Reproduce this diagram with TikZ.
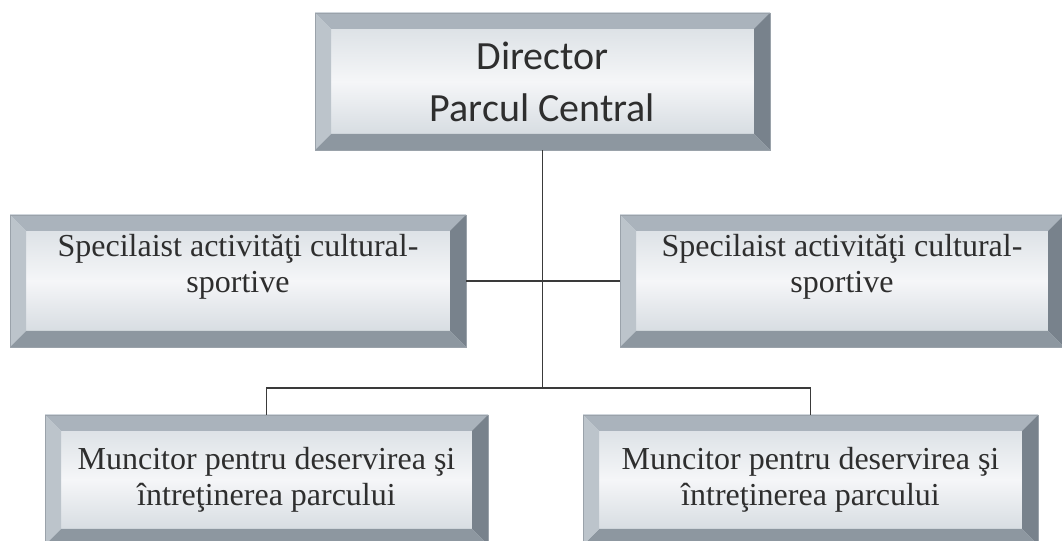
\documentclass[tikz,border=0pt]{standalone}
\usepackage{fontspec}
\setmainfont{Liberation Serif}
\newfontfamily\dirfont{Carlito}
\usetikzlibrary{positioning}
\usetikzlibrary{calc}

\definecolor{facetop}{HTML}{D6DCE1}
\definecolor{facemid}{HTML}{F5F6F8}
\definecolor{facebot}{HTML}{CED5DB}
\definecolor{bevtop}{HTML}{AAB3BC}
\definecolor{bevleft}{HTML}{BCC4CB}
\definecolor{bevright}{HTML}{78828C}
\definecolor{bevbot}{HTML}{8D97A0}
\definecolor{bevedge}{HTML}{9AA2AA}
\definecolor{inktext}{HTML}{2E2E2E}
\definecolor{inkline}{HTML}{3A3A3A}
\newcommand\bevw{8pt}

\tikzset{
  bevelbox/.style={rectangle, draw=bevedge, line width=0.4pt,
    top color=facetop, bottom color=facebot, middle color=facemid,
    text=inktext, align=center, inner sep=0pt,
    path picture={
      \path (path picture bounding box.north west) coordinate (pnw)
            (path picture bounding box.north east) coordinate (pne)
            (path picture bounding box.south east) coordinate (pse)
            (path picture bounding box.south west) coordinate (psw);
      \fill[bevtop] (pnw) -- (pne) -- ([shift={(-\bevw,-\bevw)}]pne) -- ([shift={(\bevw,-\bevw)}]pnw) -- cycle;
      \fill[bevright] (pne) -- (pse) -- ([shift={(-\bevw,\bevw)}]pse) -- ([shift={(-\bevw,-\bevw)}]pne) -- cycle;
      \fill[bevbot] (pse) -- (psw) -- ([shift={(\bevw,\bevw)}]psw) -- ([shift={(-\bevw,\bevw)}]pse) -- cycle;
      \fill[bevleft] (psw) -- (pnw) -- ([shift={(\bevw,-\bevw)}]pnw) -- ([shift={(\bevw,\bevw)}]psw) -- cycle;
    }},
  serifbox/.style={bevelbox, font=\fontsize{16}{18}\selectfont},
  conn/.style={draw=inkline, line width=0.9pt}
}

\begin{document}
\begin{tikzpicture}[x=1pt,y=1pt]
\useasboundingbox (0,0) rectangle (531,270.5);
% boxes
\node[bevelbox, minimum width=227.5pt, minimum height=68.5pt, text depth=0pt,
  font=\dirfont\fontsize{20}{26}\selectfont] (dir) at (271.25,229.75) {Director\\Parcul Central};
\node[serifbox, minimum width=228pt, minimum height=66pt] (specL) at (119,130) {Specilaist activităţi cultural-\\sportive\\\mbox{}};
\node[serifbox, minimum width=222pt, minimum height=66pt] (specR) at (421,130) {Specilaist activităţi cultural-\\sportive\\\mbox{}};
\node[serifbox, minimum width=221.5pt, minimum height=65pt] (mL) at (133.25,30.5) {Muncitor pentru deservirea şi\\întreţinerea parcului};
\node[serifbox, minimum width=227.5pt, minimum height=65pt] (mR) at (405.25,30.5) {Muncitor pentru deservirea şi\\întreţinerea parcului};
\coordinate (bus) at (271.25,76.5);
% lines
\draw[conn] (dir.south) -- (dir.south |- bus);
\draw[conn] (specL.east) -- (specR.west);
\draw[conn] (mL.north) |- (bus) -| (mR.north);
\end{tikzpicture}
\end{document}
